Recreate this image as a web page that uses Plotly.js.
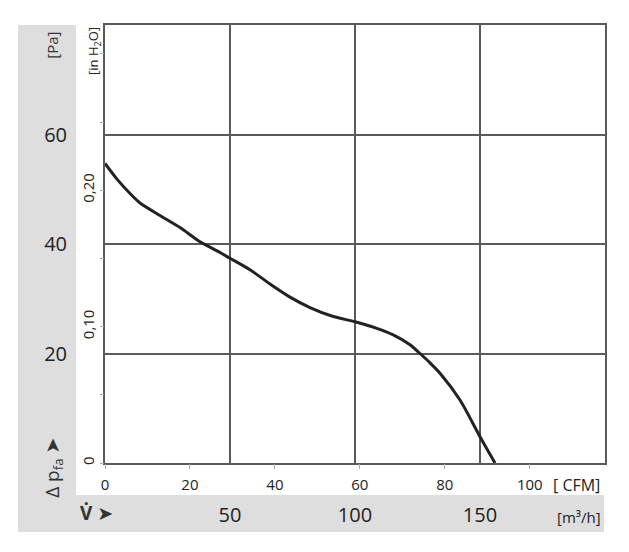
<!DOCTYPE html>
<html><head><meta charset="utf-8">
<script src="https://cdn.plot.ly/plotly-3.0.1.min.js"></script>
<style>html,body{margin:0;padding:0;background:#fff}</style>
</head><body>
<div id="chart" style="width:629px;height:552px"></div>
<script>
// Fan curve data: airflow in m³/h, static pressure in Pa
var flowM3h = [0, 4.7, 10.7, 14, 22, 30, 38, 45, 50, 58, 66, 74, 82, 91, 100, 108.7, 115.3, 122, 126, 130, 134, 142, 150, 156];
var pressurePa = [54.7, 51.9, 48.9, 47.5, 45.2, 43.0, 40.4, 38.7, 37.4, 35.3, 32.7, 30.3, 28.4, 26.8, 25.8, 24.6, 23.4, 21.6, 20.0, 18.3, 16.4, 11.5, 4.8, 0];

var m3hTicks = [50, 100, 150];
var m3hLabels = ['50', '100', '150'];
var cfmTicks = [0, 20, 40, 60, 80, 100];
var cfmLabels = ['0', '20', '40', '60', '80', '100'];
var paTicks = [20, 40, 60];
var paLabels = ['20', '40', '60'];
var inH2OTicks = [0, 0.10, 0.20];
var inH2OLabels = ['0', '0,10', '0,20'];
var inH2OMinorStep = 0.05;

var M3H_PER_CFM = 1.699;
var PA_PER_INH2O = 249.09;
var xMax = 200, yMax = 80;

var font = 'Open Sans, Noto Sans, DejaVu Sans, sans-serif';
var txt = '#222';
var gridC = '#5a5a5a';

var trace = {
  x: flowM3h, y: pressurePa, type: 'scatter', mode: 'lines',
  line: {color: '#222', width: 3, shape: 'spline', smoothing: 0.7},
  hoverinfo: 'skip', showlegend: false
};

var layout = {
  width: 629, height: 552,
  margin: {l: 105, r: 24, t: 25, b: 89},
  paper_bgcolor: '#fff', plot_bgcolor: '#fff',
  font: {family: font, color: txt},
  showlegend: false,
  xaxis: {
    range: [0, xMax], tickvals: m3hTicks, ticktext: m3hLabels,
    showgrid: true, gridcolor: gridC, gridwidth: 2,
    showline: true, linecolor: gridC, linewidth: 2, mirror: true,
    zeroline: false, ticks: '', ticklabelstandoff: 33,
    tickfont: {size: 20, color: txt, family: font}, fixedrange: true
  },
  xaxis2: {
    range: [0, xMax / M3H_PER_CFM], overlaying: 'x', side: 'bottom',
    tickvals: cfmTicks, ticktext: cfmLabels, showgrid: false, zeroline: false,
    ticks: 'outside', ticklen: 5, tickcolor: '#aaa', tickwidth: 1, ticklabelstandoff: 3,
    tickfont: {size: 15, color: txt, family: font}, showline: false, fixedrange: true
  },
  yaxis: {
    range: [0, yMax], tickvals: paTicks, ticktext: paLabels,
    showgrid: true, gridcolor: gridC, gridwidth: 2,
    showline: true, linecolor: gridC, linewidth: 2, mirror: true,
    zeroline: false, ticks: '', ticklabelstandoff: 32,
    tickfont: {size: 20, color: txt, family: font}, fixedrange: true
  },
  yaxis2: {
    range: [0, yMax / PA_PER_INH2O], overlaying: 'y', side: 'left',
    tickvals: inH2OTicks, ticktext: inH2OLabels, showgrid: false, zeroline: false,
    ticks: 'outside', ticklen: 4, tickcolor: '#aaa', tickwidth: 1, tickangle: -90,
    minor: {tick0: 0, dtick: inH2OMinorStep, ticks: 'outside', ticklen: 4, tickcolor: '#aaa', tickwidth: 1, showgrid: false},
    tickfont: {size: 15, color: txt, family: font}, showline: false, fixedrange: true
  },
  shapes: [
    {type: 'rect', xref: 'paper', yref: 'paper', x0: -0.174, x1: -0.058, y0: -0.1575, y1: 1,
     fillcolor: '#dedede', line: {width: 0}, layer: 'below'},
    {type: 'rect', xref: 'paper', yref: 'paper', x0: -0.174, x1: 0.998, y0: -0.1575, y1: -0.073,
     fillcolor: '#dedede', line: {width: 0}, layer: 'below'}
  ],
  annotations: [
    {xref: 'paper', yref: 'paper', x: -0.106, y: 0.988, text: '[Pa]', textangle: -90,
     showarrow: false, xanchor: 'center', yanchor: 'top', font: {size: 15, color: '#333'}},
    {xref: 'paper', yref: 'paper', x: -0.022, y: 1.0, text: '[in H<sub>2</sub>O]', textangle: -90,
     showarrow: false, xanchor: 'center', yanchor: 'top', font: {size: 13, color: '#222'}},
    {xref: 'paper', yref: 'paper', x: -0.104, y: -0.011, text: 'Δ p<sub>fa</sub> ➤', textangle: -90,
     showarrow: false, xanchor: 'center', yanchor: 'middle', font: {size: 19, color: '#333'}},
    {xref: 'paper', yref: 'paper', x: -0.018, y: -0.114, text: '<b>V̇ ➤</b>',
     showarrow: false, xanchor: 'center', yanchor: 'middle', font: {size: 19, color: '#333'}},
    {xref: 'paper', yref: 'paper', x: 0.948, y: -0.123, text: '[m³/h]',
     showarrow: false, xanchor: 'center', yanchor: 'middle', font: {size: 15, color: '#222'}},
    {xref: 'paper', yref: 'paper', x: 0.943, y: -0.05, text: '[ CFM]',
     showarrow: false, xanchor: 'center', yanchor: 'middle', font: {size: 16, color: '#222'}}
  ]
};

var dummy = {x: [0], y: [0], xaxis: 'x2', yaxis: 'y2', type: 'scatter', mode: 'markers',
  marker: {opacity: 0}, hoverinfo: 'skip', showlegend: false};

Plotly.newPlot('chart', [trace, dummy], layout, {displayModeBar: false, staticPlot: true});
</script>
</body></html>
